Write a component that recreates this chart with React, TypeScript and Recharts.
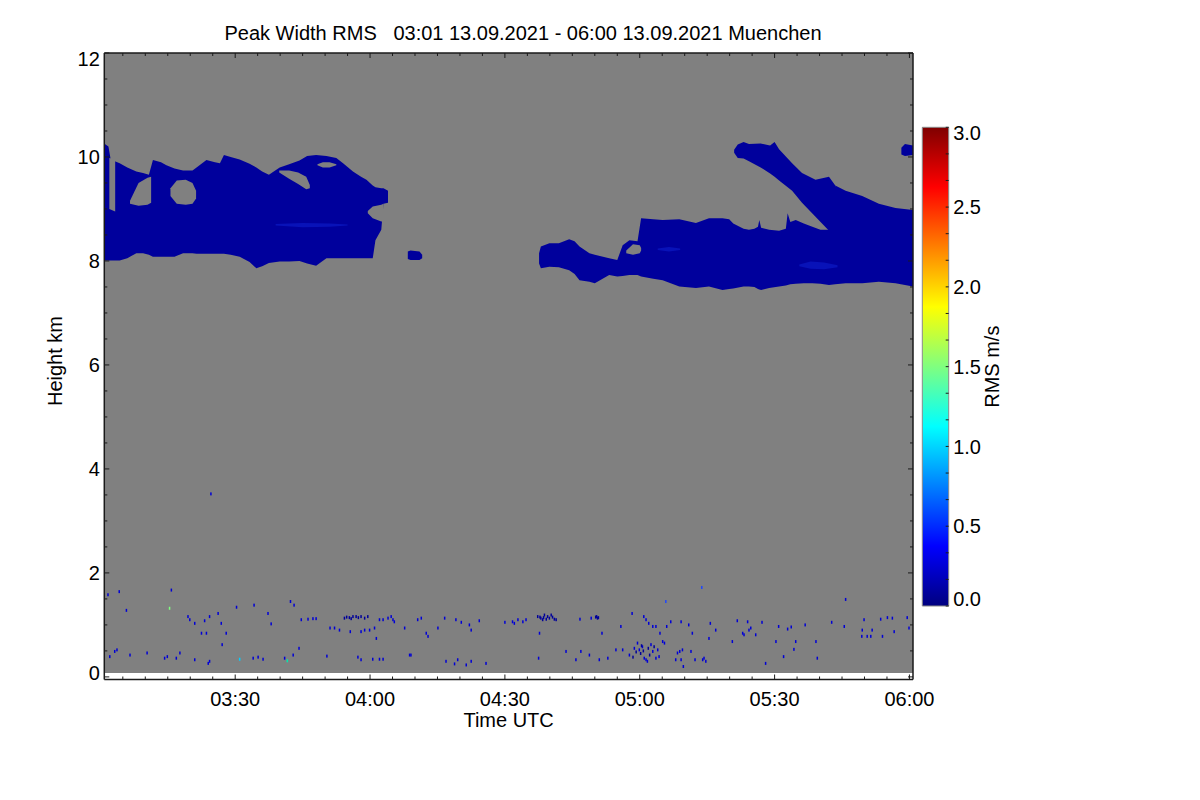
import React from 'react'
import { ComposedChart, Area, Scatter, XAxis, YAxis } from 'recharts'

const FONT = '"Liberation Sans", Arial, Helvetica, sans-serif'
const INK = '#1a1a1a'
const GRAY = '#808080'
const CLOUD = '#00009c'
const CLOUD_BRIGHT = '#0812b8'

// time axis in minutes after 00:00 UTC, height in km
const TIME_RANGE = [180.88, 360.79]
const HEIGHT_RANGE = [-0.05, 12]
const TIME_TICKS = [
  185, 190, 195, 200, 205, 210, 215, 220, 225, 230, 235, 240, 245, 250, 255, 260, 265, 270,
  275, 280, 285, 290, 295, 300, 305, 310, 315, 320, 325, 330, 335, 340, 345, 350, 355, 360,
]
const HEIGHT_TICKS = [0, 0.5, 1, 1.5, 2, 2.5, 3, 3.5, 4, 4.5, 5, 5.5, 6, 6.5, 7, 7.5, 8, 8.5, 9, 9.5, 10, 10.5, 11, 11.5, 12]
const RMS_RANGE = [0, 3]
const RMS_TICKS = [
  0, 0.1667, 0.3333, 0.5, 0.6667, 0.8333, 1, 1.1667, 1.3333, 1.5, 1.6667, 1.8333, 2, 2.1667,
  2.3333, 2.5, 2.6667, 2.8333, 3,
]

// [minute, bottom km, top km]
type Band = [number, number, number][]

const NO_ECHO: Band = [
  [180.88, 0.077, 12],
  [360.79, 0.077, 12],
]

const CLOUD_WEST: Band = [
  [181.0, 8.01, 10.25], [181.8, 8.01, 10.2], [182.3, 8.01, 9.95], [184.3, 8.01, 9.88],
  [186.0, 8.05, 9.8], [188.0, 8.15, 9.72], [189.5, 8.15, 9.69], [190.8, 8.12, 9.66],
  [191.7, 8.08, 9.94], [193.5, 8.08, 9.9], [194.7, 8.08, 9.84], [196.5, 8.08, 9.78],
  [198.4, 8.15, 9.74], [200.5, 8.15, 9.74], [201.4, 8.14, 9.8], [203.6, 8.14, 9.94],
  [205.5, 8.14, 9.9], [206.6, 8.14, 9.88], [207.5, 8.14, 10.04], [209.0, 8.12, 10.0],
  [211.0, 8.08, 9.95], [213.2, 7.98, 9.87], [214.7, 7.86, 9.8], [216.0, 7.9, 9.72],
  [217.5, 7.96, 9.66], [219.9, 7.99, 9.8], [222.0, 7.99, 9.86], [224.3, 8.0, 9.93],
  [226.0, 7.95, 10.02], [228.0, 7.91, 10.04], [230.3, 8.05, 10.02], [232.5, 8.05, 9.98],
  [234.0, 8.05, 9.88], [236.2, 8.05, 9.72], [238.0, 8.05, 9.62], [239.2, 8.05, 9.56],
  [240.6, 8.05, 9.45], [241.2, 8.4, 9.42], [242.5, 8.6, 9.4], [243.0, 9.1, 9.4],
  [244.0, 9.12, 9.35],
]

const CLOUD_MID: Band = [
  [248.4, 8.04, 8.18], [249.0, 8.02, 8.2], [251.0, 8.02, 8.18], [251.6, 8.05, 8.12],
]

// lower body of the eastern cloud
const CLOUD_EAST: Band = [
  [277.6, 7.95, 8.15], [278.0, 7.86, 8.28], [279.9, 7.89, 8.34], [282.0, 7.88, 8.34],
  [284.3, 7.82, 8.42], [285.5, 7.75, 8.38], [286.6, 7.63, 8.28], [288.8, 7.6, 8.15],
  [290.0, 7.57, 8.12], [293.2, 7.73, 8.05], [295.0, 7.7, 8.02], [296.2, 7.71, 8.3],
  [297.7, 7.73, 8.4], [299.5, 7.73, 8.38], [300.3, 7.7, 8.82], [303.0, 7.66, 8.8],
  [305.1, 7.63, 8.79], [308.8, 7.51, 8.8], [312.5, 7.48, 8.73], [315.4, 7.51, 8.82],
  [318.4, 7.44, 8.82], [319.9, 7.46, 8.8], [320.8, 7.47, 8.72], [323.1, 7.51, 8.62],
  [324.3, 7.51, 8.6], [325.5, 7.5, 8.62], [326.3, 7.46, 8.66], [326.6, 7.45, 8.79],
  [327.0, 7.44, 8.64], [328.8, 7.48, 8.6], [331.0, 7.51, 8.58], [332.5, 7.53, 8.62],
  [332.9, 7.54, 8.92], [333.5, 7.55, 8.75], [334.7, 7.56, 8.79], [336.5, 7.57, 8.72],
  [338.4, 7.57, 8.66], [340.2, 7.56, 8.6], [342.1, 7.54, 8.6], [343.5, 7.55, 9.45],
  [345.8, 7.57, 9.35], [349.5, 7.57, 9.25], [353.2, 7.6, 9.1], [356.9, 7.57, 9.02],
  [360.79, 7.51, 8.98],
]

// fall streak descending into the eastern cloud
const CLOUD_STREAK: Band = [
  [321.0, 10.08, 10.14], [321.8, 9.98, 10.24], [323.1, 9.97, 10.29], [324.3, 9.92, 10.25],
  [326.9, 9.8, 10.26], [329.0, 9.68, 10.22], [330.0, 9.62, 10.29], [331.0, 9.55, 10.15],
  [333.9, 9.35, 9.88], [336.1, 9.12, 9.69], [339.1, 8.85, 9.56], [342.1, 8.58, 9.62],
  [343.5, 8.5, 9.45],
]

const CLOUD_NE: Band = [
  [358.2, 10.05, 10.18], [359.0, 10.02, 10.25], [360.79, 10.04, 10.22],
]

// slightly larger RMS inside the cloud bodies
const BRIGHT_WEST: Band = [
  [219.0, 8.68, 8.71], [225.0, 8.65, 8.73], [231.0, 8.66, 8.72], [235.0, 8.68, 8.7],
]
const BRIGHT_EAST_A: Band = [
  [304.0, 8.21, 8.24], [306.5, 8.18, 8.27], [309.0, 8.21, 8.24],
]
const BRIGHT_EAST_B: Band = [
  [335.5, 7.9, 7.93], [338.0, 7.85, 7.99], [341.0, 7.84, 7.97], [344.0, 7.88, 7.92],
]

// cloud-free pockets
const GAP_W1: Band = [[182.0, 9.0, 9.98], [183.3, 8.95, 9.95]]
const GAP_W2: Band = [[186.6, 9.1, 9.16], [188.5, 9.06, 9.5], [190.5, 9.08, 9.6], [191.3, 9.12, 9.62]]
const GAP_W3: Band = [[195.6, 9.25, 9.4], [197.0, 9.1, 9.55], [199.0, 9.08, 9.56], [200.5, 9.1, 9.5], [201.3, 9.2, 9.35]]
const GAP_W4: Band = [[219.8, 9.7, 9.74], [222.0, 9.58, 9.74], [224.0, 9.48, 9.7], [225.8, 9.38, 9.62], [226.6, 9.4, 9.46]]
const GAP_W5: Band = [[228.3, 9.84, 9.86], [229.5, 9.8, 9.9], [231.0, 9.8, 9.9], [232.5, 9.84, 9.86]]
const GAP_W6: Band = [[239.5, 8.92, 8.96], [240.6, 8.82, 9.05], [242.5, 8.76, 9.08], [243.0, 8.76, 9.1]]
const GAP_E1: Band = [[297.0, 8.15, 8.2], [298.5, 8.12, 8.32], [300.0, 8.15, 8.3], [300.3, 8.2, 8.25]]

// boundary-layer clutter [minute, km]
const SPECKLES_BLUE: [number, number][] = [
  [181.7, 1.58], [184.2, 1.64], [185.8, 1.28], [195.8, 1.67], [199.5, 1.16], [199.9, 1.1],
  [201.0, 1.03], [203.2, 1.08], [204.3, 1.16], [206.2, 1.22], [206.9, 1.03], [202.5, 0.84],
  [203.6, 0.84], [208.0, 0.84], [207.1, 0.62], [210.3, 1.34], [214.2, 1.38], [217.3, 1.22],
  [218.0, 1.02], [222.3, 1.45], [223.1, 1.38], [224.7, 1.1], [226.2, 1.11], [227.3, 1.12],
  [228.0, 1.12], [231.1, 0.94], [232.1, 0.94], [233.2, 0.9], [235.6, 0.87], [238.0, 0.87],
  [238.8, 0.9], [239.9, 0.9], [241.0, 0.94], [241.4, 0.74], [242.1, 1.1], [242.9, 1.1],
  [244.0, 1.13], [244.7, 1.16], [245.1, 1.1], [245.4, 1.06], [247.7, 0.94], [248.8, 0.42],
  [250.6, 1.1], [251.4, 1.13], [252.5, 0.84], [252.9, 0.78], [255.1, 0.94], [256.6, 1.13],
  [259.1, 1.1], [260.3, 1.05], [262.1, 1.0], [262.5, 0.9], [264.3, 1.08],
  [182.1, 0.39], [183.2, 0.49], [183.7, 0.52], [186.6, 0.42], [190.4, 0.46], [194.3, 0.36],
  [194.9, 0.39], [196.9, 0.36], [197.7, 0.46], [201.0, 0.33], [204.3, 0.3], [204.0, 0.26],
  [214.0, 0.36], [215.1, 0.38], [216.2, 0.34], [221.0, 0.36], [222.9, 0.42], [224.2, 0.55],
  [230.4, 0.4], [237.3, 0.38], [238.0, 0.33], [240.6, 0.34], [242.1, 0.34], [242.9, 0.34],
  [249.1, 0.42], [256.9, 0.3], [258.8, 0.25], [259.5, 0.33], [261.4, 0.23], [262.5, 0.3],
  [265.8, 0.26], [204.6, 3.52],
  [270.0, 1.05], [271.7, 1.06], [272.1, 1.03], [272.9, 1.1], [274.0, 1.06], [274.7, 1.1],
  [277.7, 0.84], [277.5, 0.36], [283.6, 0.49], [285.8, 0.33], [286.9, 0.49], [288.8, 0.42],
  [291.0, 0.33], [292.9, 0.36], [286.7, 1.11], [289.2, 1.13], [291.6, 0.84], [295.8, 0.97],
  [294.7, 0.52], [296.2, 0.52], [298.3, 1.22], [297.7, 0.42], [298.8, 0.55], [299.5, 0.65],
  [299.9, 0.52], [300.6, 0.58], [301.0, 0.36], [301.4, 0.33], [301.7, 0.3], [302.5, 0.62],
  [302.9, 0.49], [303.6, 0.36], [304.0, 0.52], [304.3, 0.39], [300.9, 1.16], [301.4, 1.1],
  [302.0, 1.03], [302.9, 0.97], [303.6, 0.97], [304.5, 0.84], [305.1, 0.68], [305.5, 0.65],
  [306.0, 0.97], [306.9, 1.06], [308.0, 0.33], [308.4, 0.46], [308.9, 0.49], [309.2, 0.33],
  [309.5, 0.52], [309.7, 0.2], [309.2, 1.06], [310.9, 1.0], [311.4, 0.49], [311.7, 0.84],
  [312.3, 0.33], [314.0, 0.33], [314.3, 0.36], [314.7, 0.3], [315.4, 0.74], [315.7, 1.03],
  [316.9, 0.9], [320.6, 0.68], [321.7, 1.08], [322.9, 0.84], [323.2, 0.81], [324.0, 1.06],
  [324.3, 0.9], [324.7, 0.94], [325.8, 0.81], [327.2, 1.05], [328.0, 0.26], [330.3, 0.68],
  [330.9, 0.97], [332.0, 0.39], [332.9, 0.92], [333.7, 0.96], [334.3, 0.53], [334.7, 0.68],
  [336.8, 1.0], [339.2, 0.68], [339.5, 0.36], [342.7, 1.05], [345.5, 0.97], [345.8, 1.49],
  [349.4, 0.78], [349.5, 0.9], [349.9, 1.1], [350.6, 0.78], [351.4, 0.78], [351.7, 0.9],
  [354.0, 0.78], [353.6, 1.11], [355.1, 1.14], [356.2, 1.13], [356.6, 0.87], [359.5, 1.14],
  [359.9, 0.94],
]
const SPECKLES_NAVY: [number, number][] = [
  [234.3, 1.13], [234.8, 1.15], [235.4, 1.14], [235.8, 1.12], [236.2, 1.16], [236.9, 1.16],
  [237.4, 1.14], [238.0, 1.16], [238.8, 1.13], [239.5, 1.16], [277.3, 1.16], [277.8, 1.15],
  [278.0, 1.13], [278.4, 1.1], [278.6, 1.14], [278.8, 1.19], [279.2, 1.11], [279.5, 1.16],
  [279.9, 1.13], [280.3, 1.19], [280.6, 1.15], [281.0, 1.11], [281.4, 1.1], [290.2, 1.15],
  [290.4, 1.16], [290.6, 1.13], [290.8, 1.14], [300.2, 0.45], [300.8, 0.5], [301.9, 0.55],
  [302.2, 0.42], [303.2, 0.58], [300.4, 0.6], [299.2, 0.48], [298.5, 0.38],
]
const SPECKLES_LIGHT: [number, number][] = [[305.8, 1.45], [313.8, 1.72]]
const SPECKLES_CYAN: [number, number][] = [[211.0, 0.34]]
const SPECKLES_TEAL: [number, number][] = [[221.6, 0.31]]
const SPECKLES_GREEN: [number, number][] = [[195.4, 1.32]]

const BANDS: Record<string, Band> = {
  noEcho: NO_ECHO,
  west: CLOUD_WEST,
  mid: CLOUD_MID,
  east: CLOUD_EAST,
  streak: CLOUD_STREAK,
  ne: CLOUD_NE,
  gapW1: GAP_W1,
  gapW2: GAP_W2,
  gapW3: GAP_W3,
  gapW4: GAP_W4,
  gapW5: GAP_W5,
  gapW6: GAP_W6,
  gapE1: GAP_E1,
  brightW: BRIGHT_WEST,
  brightEA: BRIGHT_EAST_A,
  brightEB: BRIGHT_EAST_B,
}

const BAND_FILL: Record<string, string> = {
  noEcho: GRAY, west: CLOUD, mid: CLOUD, east: CLOUD, streak: CLOUD, ne: CLOUD,
  gapW1: GRAY, gapW2: GRAY, gapW3: GRAY, gapW4: GRAY, gapW5: GRAY, gapW6: GRAY, gapE1: GRAY,
  brightW: CLOUD_BRIGHT, brightEA: CLOUD_BRIGHT, brightEB: CLOUD_BRIGHT,
}

// merge all bands into one table keyed by minute
function buildTable() {
  const rows = new Map<number, Record<string, any>>()
  for (const [key, pts] of Object.entries(BANDS)) {
    for (const [t, lo, hi] of pts) {
      const row = rows.get(t) ?? { t }
      row[key] = [lo, hi]
      rows.set(t, row)
    }
  }
  return Array.from(rows.values()).sort((a, b) => a.t - b.t)
}
const tableData = buildTable()
const toPts = (list: [number, number][]) => list.map(([t, km]) => ({ t, km }))
const colorbarRows = [
  { x: 0, rms: RMS_RANGE },
  { x: 1, rms: RMS_RANGE },
]

const hhmm = (m: number) =>
  `${String(Math.floor(m / 60)).padStart(2, '0')}:${String(Math.round(m % 60)).padStart(2, '0')}`

const labelStyle = { fontFamily: FONT, fontSize: 20, fill: '#000' }

function BottomTick({ x, y, payload }: any) {
  const major = payload.value % 30 === 0
  return (
    <g>
      <line x1={x} x2={x} y1={y} y2={y - (major ? 5 : 3)} stroke={INK} />
      {major && (
        <text x={x} y={y + 26} textAnchor="middle" {...labelStyle}>
          {hhmm(payload.value)}
        </text>
      )}
    </g>
  )
}

function TopTick({ x, y, payload }: any) {
  const major = payload.value % 30 === 0
  return <line x1={x} x2={x} y1={y} y2={y + (major ? 5 : 3)} stroke={INK} />
}

function LeftTick({ x, y, payload }: any) {
  const v = payload.value
  const major = v % 2 === 0
  // IDL nudges the end labels inward
  const shift = v === 12 ? 5.3 : v === 0 ? -3.7 : 0
  return (
    <g>
      <line x1={x} x2={x + (major ? 5 : 3)} y1={y} y2={y} stroke={INK} />
      {major && (
        <text x={x - 4.5} y={y + 7.2 + shift} textAnchor="end" {...labelStyle}>
          {v}
        </text>
      )}
    </g>
  )
}

function RightTick({ x, y, payload }: any) {
  const major = payload.value % 2 === 0
  return <line x1={x} x2={x - (major ? 5 : 3)} y1={y} y2={y} stroke={INK} />
}

function ColorbarTick({ x, y, payload }: any) {
  const v = payload.value
  const major = Math.abs(v * 2 - Math.round(v * 2)) < 1e-3
  const shift = v === 3 ? 5.7 : v === 0 ? -7 : 0
  return (
    <g>
      <line x1={x} x2={x - 3} y1={y} y2={y} stroke={INK} />
      {major && (
        <text x={x + 4.5} y={y + 7.2 + shift} textAnchor="start" {...labelStyle}>
          {v.toFixed(1)}
        </text>
      )}
    </g>
  )
}

const Speck = (color: string) => (props: any) =>
  <rect x={props.cx - 0.75} y={props.cy - 1.5} width={1.5} height={3} fill={color} />

export default function App() {
  return (
    <div style={{ position: 'absolute', left: 0, top: 0, width: 1200, height: 800, background: '#fff' }}>
      <svg width={1200} height={800} style={{ position: 'absolute', left: 0, top: 0 }}>
        <defs>
          <linearGradient id="jet" x1="0" y1="1" x2="0" y2="0">
            <stop offset="0" stopColor="#00007f" />
            <stop offset="0.125" stopColor="#0000ff" />
            <stop offset="0.375" stopColor="#00ffff" />
            <stop offset="0.625" stopColor="#ffff00" />
            <stop offset="0.875" stopColor="#ff0000" />
            <stop offset="1" stopColor="#7f0000" />
          </linearGradient>
        </defs>
        <text x={523} y={40} textAnchor="middle" xmlSpace="preserve" style={{ whiteSpace: 'pre' }} {...labelStyle}>
          {'Peak Width RMS   03:01 13.09.2021 - 06:00 13.09.2021 Muenchen'}
        </text>
        <text x={508.6} y={726.5} textAnchor="middle" {...labelStyle}>Time UTC</text>
        <text transform="translate(62,361) rotate(-90)" textAnchor="middle" {...labelStyle}>Height km</text>
        <text transform="translate(999,366.7) rotate(-90)" textAnchor="middle" {...labelStyle}>RMS m/s</text>
      </svg>

      <div style={{ position: 'absolute', left: 0, top: 0 }}>
        <ComposedChart
          width={1200}
          height={800}
          data={tableData}
          margin={{ top: 52, right: 286, bottom: 60.5, left: 44.3 }}
        >
          {Object.keys(BANDS).map(key => (
            <Area
              key={key}
              dataKey={key}
              type="linear"
              stroke="none"
              fill={BAND_FILL[key]}
              fillOpacity={1}
              connectNulls
              dot={false}
              activeDot={false}
              isAnimationActive={false}
            />
          ))}
          <Scatter data={toPts(SPECKLES_BLUE)} dataKey="km" shape={Speck('#0000d6')} isAnimationActive={false} />
          <Scatter data={toPts(SPECKLES_NAVY)} dataKey="km" shape={Speck('#00009a')} isAnimationActive={false} />
          <Scatter data={toPts(SPECKLES_LIGHT)} dataKey="km" shape={Speck('#1e46ff')} isAnimationActive={false} />
          <Scatter data={toPts(SPECKLES_CYAN)} dataKey="km" shape={Speck('#00d0ff')} isAnimationActive={false} />
          <Scatter data={toPts(SPECKLES_TEAL)} dataKey="km" shape={Speck('#00e8b0')} isAnimationActive={false} />
          <Scatter data={toPts(SPECKLES_GREEN)} dataKey="km" shape={Speck('#80ff80')} isAnimationActive={false} />

          <XAxis
            dataKey="t"
            type="number"
            domain={TIME_RANGE}
            allowDataOverflow
            ticks={TIME_TICKS}
            interval={0}
            height={60}
            tickSize={0}
            tickMargin={0}
            tickLine={false}
            tick={<BottomTick />}
            axisLine={{ stroke: INK, strokeWidth: 1.5 }}
          />
          <XAxis
            xAxisId="top"
            orientation="top"
            dataKey="t"
            type="number"
            domain={TIME_RANGE}
            allowDataOverflow
            ticks={TIME_TICKS}
            interval={0}
            height={1}
            tickSize={0}
            tickMargin={0}
            tickLine={false}
            tick={<TopTick />}
            axisLine={{ stroke: INK, strokeWidth: 1.5 }}
          />
          <YAxis
            type="number"
            domain={HEIGHT_RANGE}
            allowDataOverflow
            ticks={HEIGHT_TICKS}
            interval={0}
            width={60}
            tickSize={0}
            tickMargin={0}
            tickLine={false}
            tick={<LeftTick />}
            axisLine={{ stroke: INK, strokeWidth: 1.5 }}
          />
          <YAxis
            yAxisId="right"
            orientation="right"
            type="number"
            domain={HEIGHT_RANGE}
            allowDataOverflow
            ticks={HEIGHT_TICKS}
            interval={0}
            width={1}
            tickSize={0}
            tickMargin={0}
            tickLine={false}
            tick={<RightTick />}
            axisLine={{ stroke: INK, strokeWidth: 1.5 }}
          />
        </ComposedChart>
      </div>

      <div style={{ position: 'absolute', left: 0, top: 0 }}>
        <ComposedChart
          width={1200}
          height={800}
          data={colorbarRows}
          margin={{ top: 126.3, right: 211.3, bottom: 193, left: 921.3 }}
        >
          <Area
            dataKey="rms"
            type="linear"
            stroke="none"
            fill="url(#jet)"
            fillOpacity={1}
            dot={false}
            activeDot={false}
            isAnimationActive={false}
          />
          <XAxis dataKey="x" type="number" domain={[0, 1]} height={1} tick={false} tickLine={false} axisLine={{ stroke: '#8a8a8a' }} />
          <XAxis xAxisId="top" orientation="top" dataKey="x" type="number" domain={[0, 1]} height={1} tick={false} tickLine={false} axisLine={{ stroke: '#8a8a8a' }} />
          <YAxis yAxisId="l" type="number" domain={RMS_RANGE} width={1} tick={false} tickLine={false} axisLine={{ stroke: '#8a8a8a' }} />
          <YAxis
            orientation="right"
            type="number"
            domain={RMS_RANGE}
            ticks={RMS_TICKS}
            interval={0}
            width={40}
            tickSize={0}
            tickMargin={0}
            tickLine={false}
            tick={<ColorbarTick />}
            axisLine={{ stroke: '#8a8a8a' }}
          />
        </ComposedChart>
      </div>
    </div>
  )
}
